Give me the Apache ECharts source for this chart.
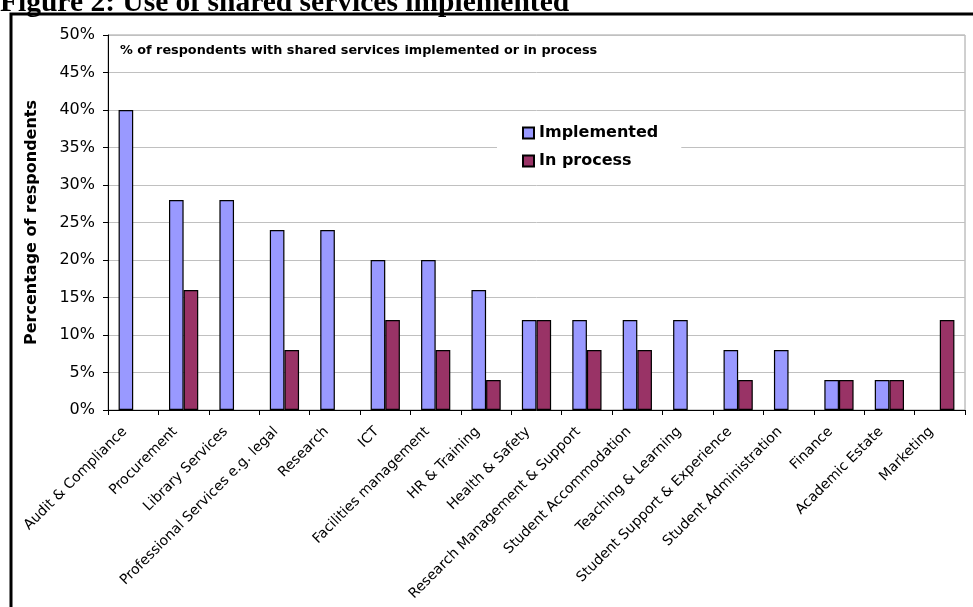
<!DOCTYPE html>
<html>
<head>
<meta charset="utf-8">
<script src="https://cdn.jsdelivr.net/npm/echarts@6/dist/echarts.min.js"></script>
<style>
  html, body { margin: 0; padding: 0; background: #fff; }
  #chart { width: 973px; height: 607px; }
</style>
</head>
<body>
<div id="chart"></div>
<script>
// Service areas, in the order they are plotted
const categories = [
  'Audit & Compliance', 'Procurement', 'Library Services',
  'Professional Services e.g. legal', 'Research', 'ICT',
  'Facilities management', 'HR & Training', 'Health & Safety',
  'Research Management & Support', 'Student Accommodation',
  'Teaching & Learning', 'Student Support & Experience',
  'Student Administration', 'Finance', 'Academic Estate', 'Marketing'
];

// Percentage of respondents per service area
const implemented = [40, 28, 28, 24, 24, 20, 20, 16, 12, 12, 12, 12, 8, 8, 4, 4, 0];
const inProcess   = [0, 16, 0, 8, 0, 12, 8, 4, 12, 8, 8, 0, 4, 0, 4, 4, 12];

// Value axis ticks
const yTicks = [0, 5, 10, 15, 20, 25, 30, 35, 40, 45, 50];

// Zero means "no bar" in this chart
const asBars = arr => arr.map(v => (v === 0 ? '-' : v));

const chart = echarts.init(document.getElementById('chart'));

const sans = '"DejaVu Sans", Verdana, sans-serif';

chart.setOption({
  animation: false,
  backgroundColor: '#fff',
  textStyle: { fontFamily: sans },
  grid: {
    left: 108, right: 8, top: 35, bottom: 197,
    show: true, borderColor: '#a0a0a0', borderWidth: 1,
    backgroundColor: 'transparent'
  },
  legend: {
    orient: 'vertical',
    left: 497, top: 117,
    padding: [8, 23, 8, 25],
    backgroundColor: '#fff',
    itemWidth: 11, itemHeight: 11, itemGap: 12,
    icon: 'rect',
    textStyle: { fontFamily: sans, fontSize: 16, fontWeight: 'bold', color: '#000' },
    data: ['Implemented', 'In process']
  },
  xAxis: {
    type: 'category',
    data: categories,
    axisLine: { lineStyle: { color: '#000', width: 1 } },
    axisTick: { show: true, alignWithLabel: false, length: 5, lineStyle: { color: '#000' } },
    axisLabel: {
      interval: 0, rotate: 45, fontSize: 14, color: '#000',
      fontFamily: sans, margin: 11, padding: [0, 12, 0, 0]
    }
  },
  yAxis: {
    type: 'value',
    min: yTicks[0], max: yTicks[yTicks.length - 1], interval: 5,
    name: 'Percentage of respondents',
    nameLocation: 'middle', nameGap: 68, nameRotate: 90,
    nameTextStyle: { fontFamily: sans, fontSize: 16, fontWeight: 'bold', color: '#000' },
    axisLine: { show: true, lineStyle: { color: '#000', width: 1 } },
    axisTick: { show: true, length: 5, lineStyle: { color: '#000' } },
    axisLabel: { fontSize: 16, color: '#000', margin: 13, formatter: v => v + '%', fontFamily: sans },
    splitLine: { show: true, lineStyle: { color: '#c0c0c0', width: 1 } }
  },
  series: [
    {
      name: 'Implemented', type: 'bar', data: asBars(implemented),
      barGap: '0%', barCategoryGap: '42%',
      itemStyle: { color: '#9999ff', borderColor: '#000', borderWidth: 1.2 },
      z: 3
    },
    {
      name: 'In process', type: 'bar', data: asBars(inProcess),
      barGap: '0%', barCategoryGap: '42%',
      itemStyle: { color: '#993366', borderColor: '#000', borderWidth: 1.2 },
      z: 3
    }
  ],
  graphic: [
    {
      type: 'text', left: 0, top: -12,
      style: {
        text: 'Figure 2: Use of shared services implemented',
        font: 'bold 29.5px "Liberation Serif", "Times New Roman", serif',
        fill: '#000'
      }
    },
    {
      type: 'rect', shape: { x: 11, y: 14, width: 970, height: 620 },
      style: { fill: 'transparent', stroke: '#000', lineWidth: 3 }, z: 0
    },
    {
      type: 'text', left: 120, top: 44,
      style: {
        text: '% of respondents with shared services implemented or in process',
        font: 'bold 12.8px "DejaVu Sans", Verdana, sans-serif',
        fill: '#000'
      }, z: 10
    }
  ]
});
</script>
</body>
</html>
